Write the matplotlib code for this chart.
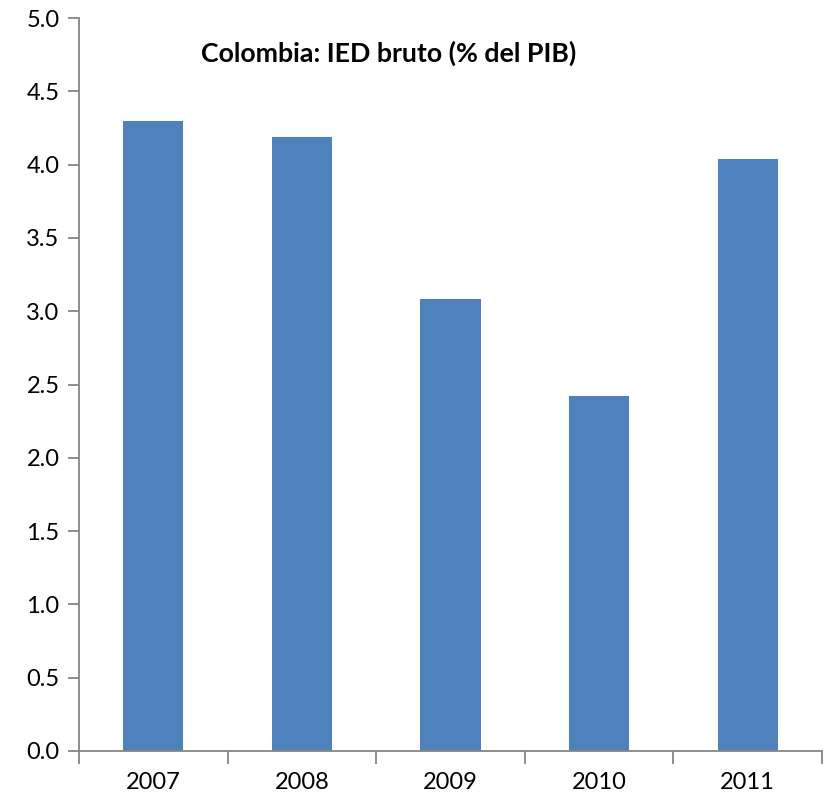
import matplotlib
matplotlib.use('Agg')
from matplotlib import pyplot as plt

# Colombia: gross FDI as % of GDP
years = ['2007', '2008', '2009', '2010', '2011']
ied = [4.30, 4.19, 3.08, 2.42, 4.04]
yticks = [0.0, 0.5, 1.0, 1.5, 2.0, 2.5, 3.0, 3.5, 4.0, 4.5, 5.0]

plt.rcParams['font.family'] = ['Lato', 'DejaVu Sans']

fig = plt.figure(figsize=(8.27, 7.98), dpi=100)
ax = fig.add_axes([0.0955, 0.0589, 0.8985, 0.9185])

pos = list(range(len(years)))
ax.bar(pos, ied, width=0.404, color='#4F81BD', zorder=2)

ax.set_xlim(-0.5, len(years) - 0.5)
ax.set_ylim(0, 5.0)
ax.set_yticks(yticks)
ax.set_yticklabels(['%.1f' % v for v in yticks], fontsize=17)
ax.set_xticks(pos)
ax.set_xticklabels(years, fontsize=17)
# boundary ticks between categories, like Excel
ax.set_xticks([p - 0.5 for p in pos] + [len(years) - 0.5], minor=True)
ax.tick_params(axis='x', which='major', length=0, pad=15)
ax.tick_params(axis='x', which='minor', length=9, width=1.3, color='#868686')
ax.tick_params(axis='y', length=8, width=1.3, color='#868686', pad=6)

for s in ['top', 'right']:
    ax.spines[s].set_visible(False)
for s in ['left', 'bottom']:
    ax.spines[s].set_color('#868686')
    ax.spines[s].set_linewidth(1.3)

fig.text(0.47, 0.933, 'Colombia: IED bruto (% del PIB)', fontsize=19.3,
         fontweight='bold', ha='center', va='center')

fig.savefig('out.png', dpi=100)
